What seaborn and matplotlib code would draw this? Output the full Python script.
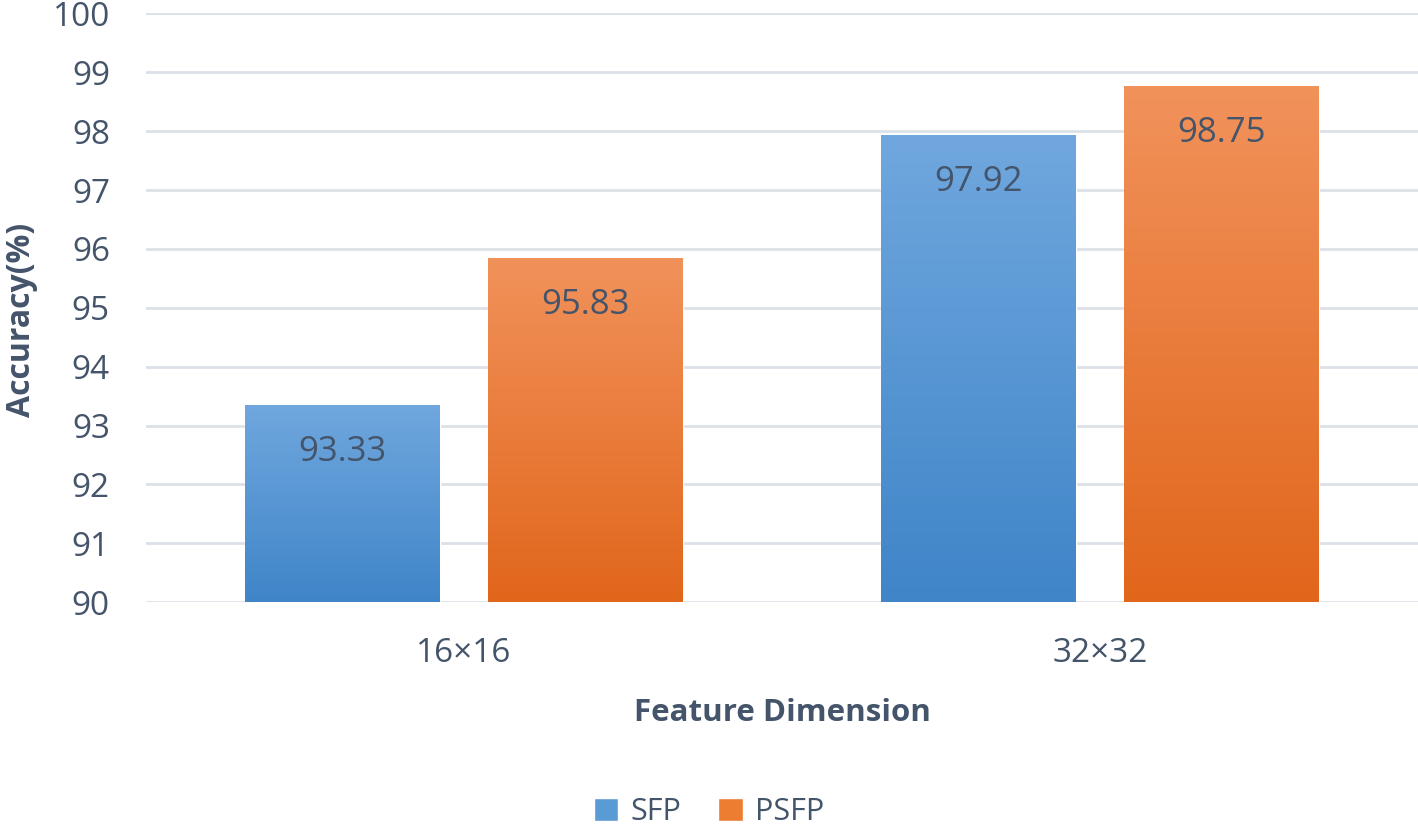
import numpy as np
import pandas as pd
import matplotlib
matplotlib.use('Agg')
import matplotlib.pyplot as plt
import seaborn as sns
from matplotlib.colors import LinearSegmentedColormap
from matplotlib.patches import Patch

# data
dims = ['16×16', '32×32']
methods = ['SFP', 'PSFP']
sfp_acc = [93.33, 97.92]
psfp_acc = [95.83, 98.75]
y_ticks = list(range(90, 101))

df = pd.DataFrame({
    'Feature Dimension': dims * 2,
    'Method': ['SFP'] * 2 + ['PSFP'] * 2,
    'Accuracy': sfp_acc + psfp_acc,
})

text_col = '#44546a'
palette = {'SFP': '#5b9bd5', 'PSFP': '#ed7d31'}
# (bottom, top) colours of the bar gradients
grad = {'SFP': ('#3f85c8', '#70a7de'), 'PSFP': ('#e1661b', '#f1925b')}

sns.set_theme(style='white')
plt.rcParams['font.family'] = ['Open Sans', 'DejaVu Sans']

fig = plt.figure(figsize=(14.18, 8.33), dpi=100)
ax = fig.add_axes([0.103, 0.277, 0.897, 0.707])

sns.barplot(data=df, x='Feature Dimension', y='Accuracy', hue='Method',
            order=dims, hue_order=methods, palette=palette,
            width=0.764, gap=0.198, legend=False, ax=ax, zorder=2)

ymin, ymax = 90, 100
ramp = np.linspace(0, 1, 256).reshape(-1, 1)
for container, m in zip(ax.containers, methods):
    cmap = LinearSegmentedColormap.from_list(m, grad[m])
    for bar in container:
        x0, w, h = bar.get_x(), bar.get_width(), bar.get_height()
        ax.imshow(ramp, extent=[x0, x0 + w, ymin, h], origin='lower',
                  cmap=cmap, aspect='auto', zorder=2.5)
        ax.annotate(f'{h:.2f}', (x0 + w / 2, h), xytext=(0, -33),
                    textcoords='offset points', ha='center', va='center',
                    fontsize=25, color=text_col, zorder=3)

ax.set_xlim(-0.5, 1.5)
ax.set_ylim(ymin, ymax)
ax.set_yticks(y_ticks)
ax.yaxis.grid(True, color='#dce1e8', linewidth=2)
ax.xaxis.grid(False)
ax.set_axisbelow(True)
for s in ax.spines.values():
    s.set_visible(False)

ax.tick_params(axis='y', length=0, pad=26, labelsize=24, labelcolor=text_col)
ax.tick_params(axis='x', length=0, pad=25, labelsize=24, labelcolor=text_col)

ax.set_xlabel('Feature Dimension', fontsize=22.5, fontweight='bold', color=text_col)
ax.set_ylabel('Accuracy(%)', fontsize=23, fontweight='bold', color=text_col)
ax.xaxis.set_label_coords(0.5, -0.162)
ax.yaxis.set_label_coords(-0.085, 0.479)

handles = [Patch(facecolor=palette[m], label=m) for m in methods]
fig.legend(handles=handles, loc='lower center', bbox_to_anchor=(0.5, -0.026),
           ncol=2, frameon=False, fontsize=22, labelcolor=text_col,
           handlelength=0.8, handleheight=0.8, handletextpad=0.4,
           columnspacing=1.2)

fig.savefig('out.png', dpi=100)
